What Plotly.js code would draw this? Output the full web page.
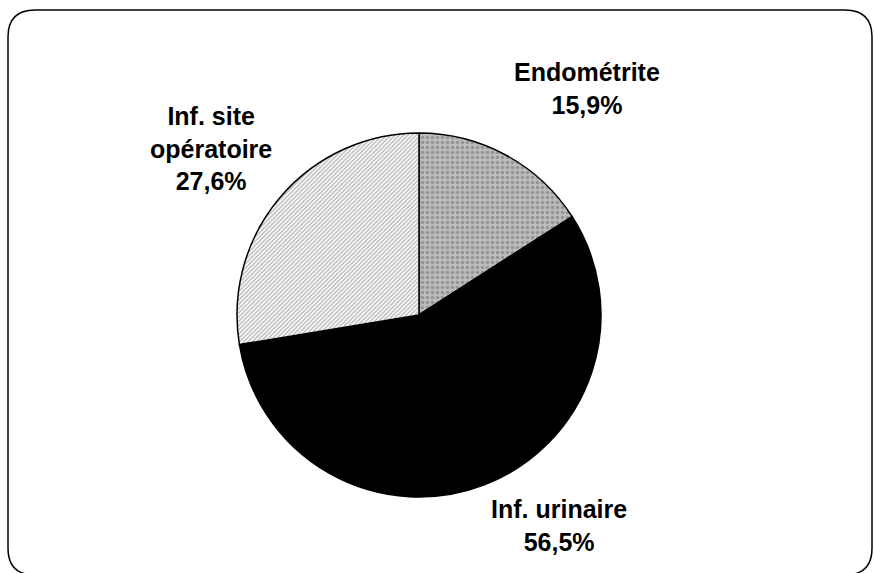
<!DOCTYPE html>
<html>
<head>
<meta charset="utf-8">
<script src="https://cdn.plot.ly/plotly-3.0.1.min.js"></script>
<style>html,body{margin:0;padding:0;background:#fff;}#chart{width:874px;height:573px;}</style>
</head>
<body>
<div id="chart"></div>
<script>
const categories = ["Endométrite", "Inf. urinaire", "Inf. site opératoire"];
const values = [15.9, 56.5, 27.6];
const labelTexts = ["Endométrite<br>15,9%", "Inf. urinaire<br>56,5%", "Inf. site<br>opératoire<br>27,6%"];

const W = 874, H = 573;
const px = x => x / W;
const py = y => 1 - y / H;

// rounded border
const x0 = 8, y0 = 10, x1 = 872, y1 = 575, r = 27;
const path = [
  `M ${px(x0 + r)} ${py(y0)}`,
  `L ${px(x1 - r)} ${py(y0)}`,
  `Q ${px(x1)} ${py(y0)} ${px(x1)} ${py(y0 + r)}`,
  `L ${px(x1)} ${py(y1 - r)}`,
  `Q ${px(x1)} ${py(y1)} ${px(x1 - r)} ${py(y1)}`,
  `L ${px(x0 + r)} ${py(y1)}`,
  `Q ${px(x0)} ${py(y1)} ${px(x0)} ${py(y1 - r)}`,
  `L ${px(x0)} ${py(y0 + r)}`,
  `Q ${px(x0)} ${py(y0)} ${px(x0 + r)} ${py(y0)}`,
  'Z'
].join(' ');

const trace = {
  type: 'pie',
  labels: categories,
  values: values,
  sort: false,
  direction: 'clockwise',
  rotation: 0,
  textinfo: 'none',
  hoverinfo: 'label+percent',
  showlegend: false,
  domain: {x: [px(237), px(601)], y: [py(497), py(133)]},
  marker: {
    colors: ['#a9a9a9', '#000000', '#ffffff'],
    line: {color: '#000', width: 1.5},
    pattern: {
      shape: ['.', '', '/'],
      bgcolor: ['#bcbcbc', '#000000', '#ffffff'],
      fgcolor: ['#6e6e6e', '#000000', '#7a7a7a'],
      size: [5, 4, 3],
      solidity: [0.4, 0.5, 0.5],
      fillmode: 'overlay'
    }
  }
};

const font = {family: 'Liberation Sans, Arial, sans-serif', size: 25, color: '#000'};
const layout = {
  width: W, height: H,
  margin: {l: 0, r: 0, t: 0, b: 0},
  paper_bgcolor: '#fff',
  plot_bgcolor: '#fff',
  showlegend: false,
  shapes: [{type: 'path', xref: 'paper', yref: 'paper', path: path, line: {color: '#000', width: 1.5}}],
  annotations: [
    {x: px(587), y: py(89), text: '<b>' + labelTexts[0] + '</b>'},
    {x: px(559), y: py(525), text: '<b>' + labelTexts[1] + '</b>'},
    {x: px(211), y: py(148), text: '<b>' + labelTexts[2] + '</b>'}
  ].map(a => Object.assign({xref: 'paper', yref: 'paper', showarrow: false, align: 'center', xanchor: 'center', yanchor: 'middle', font: font}, a))
};

Plotly.newPlot('chart', [trace], layout, {displayModeBar: false, staticPlot: true});
</script>
</body>
</html>
